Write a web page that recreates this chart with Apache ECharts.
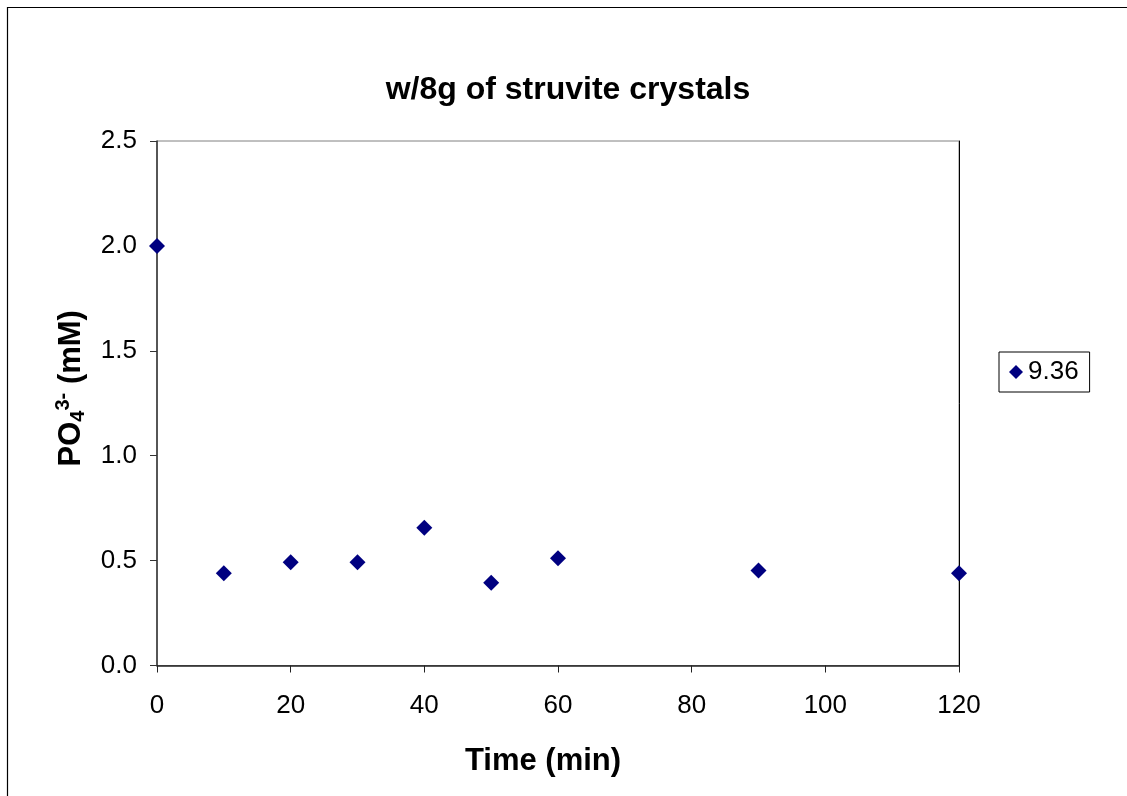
<!DOCTYPE html>
<html>
<head>
<meta charset="utf-8">
<script src="https://cdn.jsdelivr.net/npm/echarts@6/dist/echarts.min.js"></script>
<style>
html,body{margin:0;padding:0;background:#fff;}
#c{width:1127px;height:796px;}
</style>
</head>
<body>
<div id="c"></div>
<script>
const chartTitle = 'w/8g of struvite crystals';
const seriesName = '9.36';
const timeMin = [0, 10, 20, 30, 40, 50, 60, 90, 120];
const po4mM = [2.0, 0.44, 0.492, 0.492, 0.657, 0.395, 0.511, 0.453, 0.44];
const xTicks = [0, 20, 40, 60, 80, 100, 120];
const yTicks = [0, 0.5, 1.0, 1.5, 2.0, 2.5];

const FONT = '"Liberation Sans", Arial, sans-serif';
const chart = echarts.init(document.getElementById('c'));
chart.setOption({
  backgroundColor: '#fff',
  animation: false,
  textStyle: { fontFamily: FONT },
  graphic: [{
    type: 'polyline',
    shape: { points: [[7.5, 900], [7.5, 7.5], [1200, 7.5]] },
    style: { fill: 'none', stroke: '#000', lineWidth: 1.2 },
    silent: true
  }],
  title: {
    text: chartTitle,
    left: 563, top: 69,
    textAlign: 'center',
    textStyle: { fontFamily: FONT, fontSize: 32, fontWeight: 'bold', color: '#000' }
  },
  legend: {
    left: 999, top: 352,
    orient: 'vertical',
    icon: 'diamond',
    itemWidth: 14, itemHeight: 14,
    padding: [7, 11, 7, 10],
    borderColor: '#000', borderWidth: 1,
    textStyle: { fontFamily: FONT, fontSize: 26, color: '#000' },
    itemStyle: { opacity: 1 },
    data: [seriesName]
  },
  grid: {
    left: 157, top: 141, width: 802, height: 524.5,
    show: true, borderColor: '#808080', borderWidth: 1
  },
  xAxis: {
    type: 'value', min: 0, max: 120, interval: 20,
    name: 'Time (min)',
    nameLocation: 'middle', nameGap: 80,
    nameTextStyle: { fontFamily: FONT, fontSize: 31, fontWeight: 'bold', color: '#000', padding: [0, 30, 0, 0] },
    axisLine: { show: true, lineStyle: { color: '#222', width: 1.5 } },
    axisTick: { show: true, length: 7, lineStyle: { color: '#222' } },
    axisLabel: { margin: 27, fontSize: 26, color: '#000', fontFamily: FONT,
      formatter: v => xTicks.includes(v) ? String(v) : '' },
    splitLine: { show: false }
  },
  yAxis: [{
    type: 'value', min: 0, max: 2.5, interval: 0.5,
    name: '{b|PO}{sub|4}{sup|3-}{b| (mM)}',
    nameLocation: 'middle', nameGap: 66,
    nameTextStyle: {
      fontFamily: FONT, fontSize: 31, fontWeight: 'bold', color: '#000',
      padding: [0, 0, 0, 30],
      rich: {
        b: { fontFamily: FONT, fontSize: 31, fontWeight: 'bold', color: '#000', lineHeight: 40 },
        sub: { fontFamily: FONT, fontSize: 20, fontWeight: 'bold', color: '#000', lineHeight: 40, padding: [14, 0, 0, 0] },
        sup: { fontFamily: FONT, fontSize: 20, fontWeight: 'bold', color: '#000', lineHeight: 40, padding: [0, 0, 16, 0] }
      }
    },
    axisLine: { show: true, lineStyle: { color: '#333', width: 1.5 } },
    axisTick: { show: true, length: 7, lineStyle: { color: '#333' } },
    axisLabel: { margin: 20, fontSize: 26, color: '#000', fontFamily: FONT,
      formatter: v => yTicks.some(t => Math.abs(t - v) < 1e-9) ? v.toFixed(1) : '' },
    splitLine: { show: false }
  }, {
    type: 'value', min: 0, max: 2.5, interval: 0.5, position: 'right',
    axisLine: { show: true, onZero: false, lineStyle: { color: '#000', width: 1 } },
    axisTick: { show: false }, axisLabel: { show: false }, splitLine: { show: false }
  }],
  series: [{
    name: seriesName,
    type: 'scatter',
    symbol: 'diamond',
    symbolSize: 16,
    itemStyle: { color: '#000080', opacity: 1 },
    data: timeMin.map((t, i) => [t, po4mM[i]])
  }]
});
</script>
</body>
</html>
